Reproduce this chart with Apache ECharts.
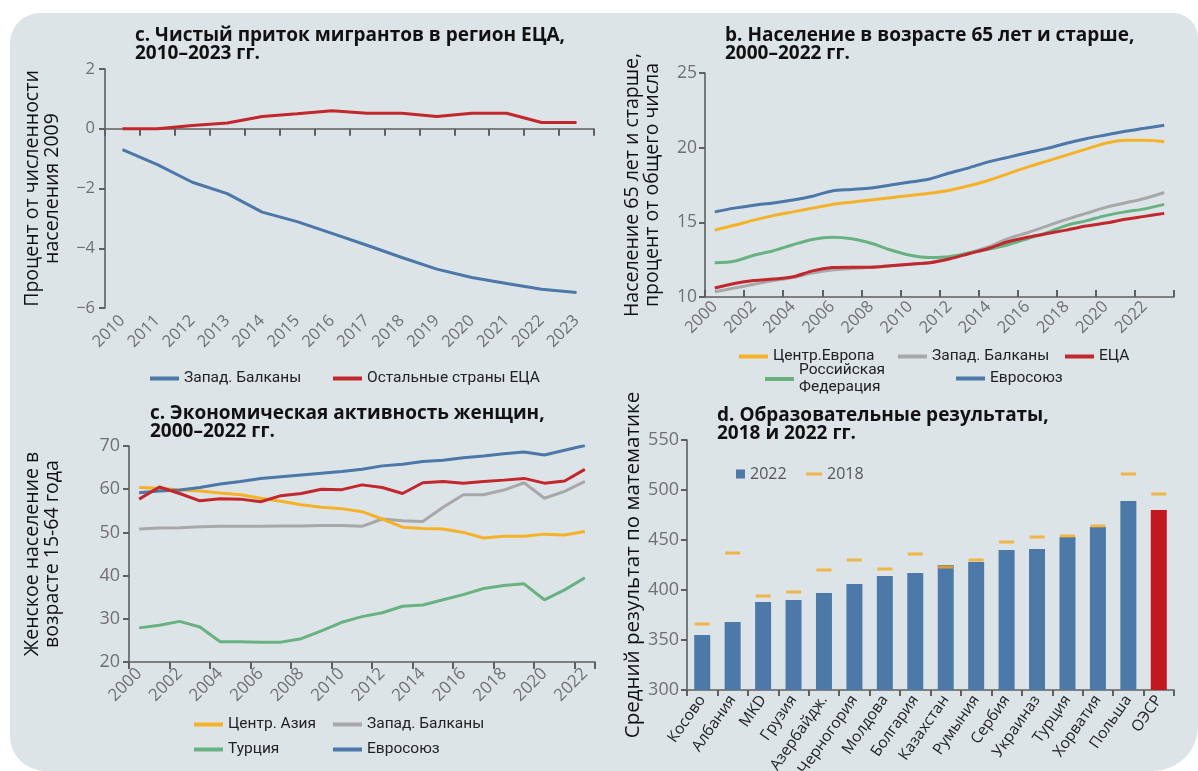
<!DOCTYPE html>
<html>
<head>
<meta charset="utf-8">
<script src="https://cdn.jsdelivr.net/npm/echarts@6/dist/echarts.min.js"></script>
<style>
html,body{margin:0;padding:0;background:#ffffff;}
#chart{width:1198px;height:771px;}
</style>
</head>
<body>
<div id="chart"></div>
<script>
// ---------- DATA ----------
const yearsMig = ['2010','2011','2012','2013','2014','2015','2016','2017','2018','2019','2020','2021','2022','2023'];
const migWestBalkans = [-0.7,-1.2,-1.79,-2.17,-2.79,-3.11,-3.5,-3.9,-4.31,-4.7,-4.98,-5.18,-5.37,-5.48];
const migRestECA = [0,0,0.11,0.19,0.41,0.5,0.6,0.52,0.52,0.41,0.52,0.52,0.21,0.21];

const yearsAge = ['2000','2001','2002','2003','2004','2005','2006','2007','2008','2009','2010','2011','2012','2013','2014','2015','2016','2017','2018','2019','2020','2021','2022','2023'];
const ageCentralEurope = [14.48,14.8,15.15,15.45,15.7,15.95,16.2,16.35,16.5,16.65,16.8,16.95,17.15,17.45,17.8,18.25,18.7,19.1,19.5,19.9,20.3,20.5,20.5,20.4];
const ageWestBalkans = [10.35,10.6,10.85,11.1,11.3,11.6,11.8,11.9,12.0,12.1,12.2,12.3,12.6,12.95,13.35,13.9,14.3,14.75,15.2,15.6,16.0,16.3,16.6,17.0];
const ageECA = [10.6,10.9,11.1,11.2,11.35,11.75,11.97,12.0,12.0,12.1,12.2,12.3,12.55,12.9,13.25,13.7,14.0,14.25,14.48,14.75,14.95,15.2,15.4,15.6];
const ageRussia = [12.3,12.4,12.8,13.1,13.5,13.85,14.0,13.9,13.6,13.15,12.8,12.65,12.7,12.95,13.2,13.5,13.9,14.3,14.8,15.1,15.45,15.7,15.9,16.2];
const ageEU = [15.7,15.95,16.15,16.3,16.5,16.75,17.1,17.2,17.3,17.5,17.7,17.9,18.3,18.65,19.05,19.35,19.66,19.95,20.3,20.6,20.85,21.1,21.3,21.5];

const yearsFem = ['2000','2001','2002','2003','2004','2005','2006','2007','2008','2009','2010','2011','2012','2013','2014','2015','2016','2017','2018','2019','2020','2021','2022'];
const femCentralAsia = [60.4,60.2,59.8,59.6,59.1,58.7,57.9,57.2,56.4,55.8,55.5,54.8,53.1,51.2,50.9,50.8,50.0,48.7,49.1,49.1,49.6,49.4,50.2];
const femWestBalkans = [50.8,51.0,51.1,51.3,51.4,51.4,51.4,51.5,51.5,51.6,51.6,51.4,53.1,52.7,52.5,55.8,58.7,58.7,59.8,61.5,57.9,59.5,61.8];
const femTurkey = [27.9,28.5,29.4,28.1,24.7,24.7,24.6,24.6,25.4,27.2,29.2,30.5,31.4,32.9,33.2,34.4,35.6,37.0,37.7,38.1,34.4,36.7,39.5];
const femEU = [59.2,59.6,59.8,60.4,61.2,61.8,62.5,62.9,63.3,63.7,64.1,64.6,65.4,65.8,66.4,66.7,67.3,67.7,68.2,68.6,67.9,69.0,70.1];
const femECA = [57.7,60.5,59.0,57.3,57.8,57.7,57.1,58.5,59.0,60.0,59.9,61.0,60.4,59.0,61.5,61.8,61.4,61.8,62.1,62.5,61.4,61.9,64.6];

const pisaCountries = ['Косово','Албания','MKD','Грузия','Азербайдж.','Черногория','Молдова','Болгария','Казахстан','Румыния','Сербия','Украиназ','Турция','Хорватия','Польша','ОЭСР'];
const pisa2022 = [355,368,388,390,397,406,414,417,425,428,440,441,453,463,489,480];
const pisa2018 = [366,437,394,398,420,430,421,436,423,430,448,453,454,464,516,496];

const legendText = {
  mig_wb:'Запад. Балканы', mig_rest:'Остальные страны ЕЦА',
  age_ce:'Центр.Европа', age_wb:'Запад. Балканы', age_eca:'ЕЦА', age_ru:'Российская\nФедерация', age_eu:'Евросоюз',
  fem_ca:'Центр. Азия', fem_wb:'Запад. Балканы', fem_tr:'Турция', fem_eu:'Евросоюз', fem_eca:'ЕЦА',
  p2022:'2022', p2018:'2018'
};

// ---------- STYLE ----------
const FONT = "'Open Sans', 'Noto Sans', sans-serif";
const LFONT = "Roboto, 'Open Sans', sans-serif";
const BLUE = '#4b77a9', RED = '#c1272d', YELLOW = '#f5b228', GRAY = '#a8a8a8', GREEN = '#68b282';
const BAR_BLUE = '#4d79a9', BAR_RED = '#c1191f', DASH = '#f5a91f';
const AXIS = '#5f5f5f', TICKTXT = '#707070';

const chart = echarts.init(document.getElementById('chart'), null, {renderer:'canvas'});

function lineSeries(name, data, color, xi, yi, smooth){
  return {type:'line', name:name, data:data, xAxisIndex:xi, yAxisIndex:yi, symbol:'none', smooth:smooth||false,
    lineStyle:{width:3, color:color}, itemStyle:{color:color}, emphasis:{disabled:true}, z:3};
}
function legendItem(name, left, top, opts){
  return Object.assign({data:[name], left:left, top:top, padding:0, icon:'rect', itemWidth:29, itemHeight:4,
    selectedMode:false, formatter:n => legendText[n],
    textStyle:{fontFamily:LFONT, fontSize:15.5, color:'#222', lineHeight:17}}, opts||{});
}
function tick(len, inside, interval){
  const t = {show:true, inside:!!inside, length:len, lineStyle:{color:AXIS, width:2}};
  if (interval !== undefined) t.interval = interval;
  return t;
}
const axisLineStyle = {show:true, lineStyle:{color:AXIS, width:1.6}};
const yName = {fontFamily:FONT, fontSize:19.5, fontWeight:500, color:'#111', lineHeight:20};
const titleStyle = {fontFamily:FONT, fontSize:19, fontWeight:'bold', color:'#111', lineHeight:18};
const xLab = {fontFamily:FONT, fontSize:16.5, color:TICKTXT};

const option = {
  animation:false,
  backgroundColor:'#ffffff',
  graphic:[{type:'rect', silent:true, z:-100, shape:{x:10, y:13, width:1188, height:758, r:[30,25,45,35]}, style:{fill:'#dde4e7'}}],
  title:[
    {text:'с. Чистый приток мигрантов в регион ЕЦА,\n2010–2023 гг.', left:135, top:27, padding:0, textStyle:titleStyle},
    {text:'b. Население в возрасте 65 лет и старше,\n2000–2022 гг.', left:725, top:27, padding:0, textStyle:titleStyle},
    {text:'с. Экономическая активность женщин,\n2000–2022 гг.', left:150, top:405, padding:0, textStyle:titleStyle},
    {text:'d. Образовательные результаты,\n2018 и 2022 гг.', left:717, top:407, padding:0, textStyle:titleStyle}
  ],
  legend:[
    legendItem('mig_wb', 150, 370),
    legendItem('mig_rest', 333, 370),
    legendItem('age_ce', 739, 348),
    legendItem('age_wb', 898, 348),
    legendItem('age_eca', 1065, 348),
    legendItem('age_ru', 765, 362),
    legendItem('age_eu', 956, 370),
    legendItem('fem_ca', 194, 716),
    legendItem('fem_wb', 333, 716),
    legendItem('fem_tr', 194, 741),
    legendItem('fem_eu', 333, 741),
    legendItem('p2022', 736, 466, {itemWidth:9, itemHeight:9, itemStyle:{color:BAR_BLUE}, textStyle:{fontFamily:FONT, fontSize:16, color:'#555'}}),
    legendItem('p2018', 806, 466, {itemWidth:16, itemHeight:3, textStyle:{fontFamily:FONT, fontSize:16, color:'#555'}})
  ],
  grid:[
    {left:105, top:69, width:489, height:239, containLabel:false, outerBoundsMode:'none'},
    {left:705, top:73, width:469, height:224, containLabel:false, outerBoundsMode:'none'},
    {left:129, top:446, width:466, height:216, containLabel:false, outerBoundsMode:'none'},
    {left:687, top:440, width:487, height:250, containLabel:false, outerBoundsMode:'none'}
  ],
  xAxis:[
    // axis line + ticks at the zero level of the migration chart
    {gridIndex:0, type:'category', data:yearsMig, position:'bottom', boundaryGap:true, offset:-179.25,
      axisLine:{show:true, onZero:false, lineStyle:{color:AXIS, width:1.6}},
      axisTick:tick(7, false, 0), axisLabel:{show:false}, splitLine:{show:false}},
    // year labels at the bottom of the migration chart
    {gridIndex:0, type:'category', data:yearsMig, position:'bottom', boundaryGap:true,
      axisLine:{show:false, onZero:false}, axisTick:{show:false}, splitLine:{show:false},
      axisLabel:Object.assign({show:true, rotate:45, interval:0, margin:10}, xLab)},
    {gridIndex:1, type:'category', data:yearsAge, boundaryGap:true,
      axisLine:axisLineStyle, axisTick:tick(7, true, 1),
      axisLabel:Object.assign({show:true, rotate:45, interval:1, margin:7}, xLab), splitLine:{show:false}},
    {gridIndex:2, type:'category', data:yearsFem, boundaryGap:true,
      axisLine:axisLineStyle, axisTick:tick(7, false, 1),
      axisLabel:Object.assign({show:true, rotate:45, interval:1, margin:9}, xLab, {fontSize:17}), splitLine:{show:false}},
    {gridIndex:3, type:'category', data:pisaCountries, boundaryGap:true,
      axisLine:axisLineStyle, axisTick:tick(6, false, 0),
      axisLabel:{show:true, rotate:55, interval:0, margin:7, fontFamily:FONT, fontSize:15.5, color:'#222'}, splitLine:{show:false}}
  ],
  yAxis:[
    {gridIndex:0, type:'value', min:-6, max:2, interval:2,
      name:'Процент от численности\nнаселения 2009', nameLocation:'middle', nameRotate:90, nameGap:43, nameTextStyle:yName,
      axisLine:axisLineStyle, axisTick:tick(6), splitLine:{show:false},
      axisLabel:{margin:10, fontFamily:FONT, fontSize:16.5, color:TICKTXT, formatter:v => v < 0 ? '−' + (-v) : String(v)}},
    {gridIndex:1, type:'value', min:10, max:25, interval:5,
      name:'Население 65 лет и старше,\nпроцент от общего числа', nameLocation:'middle', nameRotate:90, nameGap:43, nameTextStyle:yName,
      axisLine:axisLineStyle, axisTick:tick(6), splitLine:{show:false},
      axisLabel:{margin:8, fontFamily:FONT, fontSize:17.5, color:TICKTXT}},
    {gridIndex:2, type:'value', min:20, max:70, interval:10,
      name:'Женское население в\nвозрасте 15-64 года', nameLocation:'middle', nameRotate:90, nameGap:67, nameTextStyle:yName,
      axisLine:axisLineStyle, axisTick:tick(6), splitLine:{show:false},
      axisLabel:{margin:9, fontFamily:FONT, fontSize:18, color:TICKTXT}},
    {gridIndex:3, type:'value', min:300, max:550, interval:50,
      name:'Средний результат по математике', nameLocation:'middle', nameRotate:90, nameGap:44,
      nameTextStyle:Object.assign({}, yName, {fontSize:20.5}),
      axisLine:axisLineStyle, axisTick:tick(6), splitLine:{show:false},
      axisLabel:{margin:8, fontFamily:FONT, fontSize:18, color:TICKTXT}}
  ],
  series:[
    lineSeries('mig_wb', migWestBalkans, BLUE, 0, 0),
    lineSeries('mig_rest', migRestECA, RED, 0, 0),

    lineSeries('age_wb', ageWestBalkans, GRAY, 2, 1, 0.3),
    lineSeries('age_ru', ageRussia, GREEN, 2, 1, 0.3),
    lineSeries('age_ce', ageCentralEurope, YELLOW, 2, 1, 0.3),
    lineSeries('age_eu', ageEU, BLUE, 2, 1, 0.3),
    lineSeries('age_eca', ageECA, RED, 2, 1, 0.3),

    lineSeries('fem_wb', femWestBalkans, GRAY, 3, 2),
    lineSeries('fem_ca', femCentralAsia, YELLOW, 3, 2),
    lineSeries('fem_tr', femTurkey, GREEN, 3, 2),
    lineSeries('fem_eu', femEU, BLUE, 3, 2),
    lineSeries('fem_eca', femECA, RED, 3, 2),

    {type:'bar', name:'p2022', data:pisa2022, xAxisIndex:4, yAxisIndex:3, barWidth:16, z:2,
      itemStyle:{color:p => p.name === 'ОЭСР' ? BAR_RED : BAR_BLUE}, emphasis:{disabled:true}},
    {type:'scatter', name:'p2018', data:pisa2018, xAxisIndex:4, yAxisIndex:3, symbol:'rect', symbolSize:[15,3], z:4,
      itemStyle:{color:DASH}, emphasis:{disabled:true}}
  ]
};
chart.setOption(option);
</script>
</body>
</html>
